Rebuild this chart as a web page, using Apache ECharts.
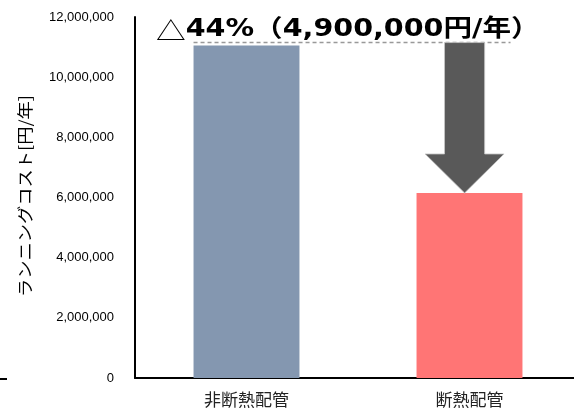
<!DOCTYPE html>
<html><head><meta charset="utf-8">
<script src="https://cdn.jsdelivr.net/npm/echarts@6/dist/echarts.min.js"></script>
<style>html,body{margin:0;padding:0;background:#fff}#c{width:574px;height:412px}</style>
</head><body><div id="c"></div>
<script>
var categories = ['非断熱配管', '断熱配管'];
var costValues = [11050000, 6150000];
var barColors = ['#8497B0', '#FF7575'];
var yTicks = [0, 2000000, 4000000, 6000000, 8000000, 10000000, 12000000];
var reductionFrom = 11150000;
var reductionTo = 6150000;
var reductionLabel = '44%（4,900,000円/年）';
var yAxisName = 'ランニングコスト[円/年]';

var chart = echarts.init(document.getElementById('c'), null, {renderer: 'canvas'});

function fmt(v) { return String(v).replace(/\B(?=(\d{3})+(?!\d))/g, ','); }

chart.setOption({
  animation: false,
  backgroundColor: '#fff',
  grid: {left: 135, width: 446, top: 17, bottom: 34, containLabel: false, outerBoundsMode: 'none'},
  xAxis: {
    type: 'category', data: categories,
    axisLine: {lineStyle: {color: '#000', width: 2}},
    axisTick: {show: false},
    axisLabel: {color: '#222', fontSize: 17, margin: 13, fontFamily: 'Noto Sans CJK JP'}
  },
  yAxis: {
    type: 'value', min: yTicks[0], max: yTicks[yTicks.length - 1], interval: yTicks[1] - yTicks[0],
    axisLine: {show: true, lineStyle: {color: '#000', width: 2}},
    axisTick: {show: false},
    splitLine: {show: false},
    axisLabel: {color: '#000', fontSize: 13, margin: 21, fontFamily: 'Liberation Sans', formatter: fmt}
  },
  graphic: [
    {type: 'line', shape: {x1: 0, y1: 379, x2: 7, y2: 379}, style: {stroke: '#000', lineWidth: 2}},
    {type: 'text', x: 25, y: 196, rotation: Math.PI / 2, scaleX: 1.14,
     style: {text: yAxisName, align: 'center', verticalAlign: 'middle', fill: '#000',
             fontSize: 16, fontFamily: 'Noto Sans CJK JP'}},
    {type: 'text', x: 156, y: 30, scaleX: 1.19, z: 10,
     style: {
       text: '{a|△}{b|' + reductionLabel + '}',
       verticalAlign: 'middle', align: 'left',
       rich: {
         a: {fontSize: 25, fontWeight: 'normal', fill: '#000', fontFamily: 'Noto Sans CJK JP'},
         b: {fontSize: 24, fontWeight: 'bold', fill: '#000', fontFamily: 'DejaVu Sans, Noto Sans CJK JP'}
       }
     }}
  ],
  series: [{
    type: 'bar', barWidth: '47.5%',
    data: costValues.map(function (v, i) { return {value: v, itemStyle: {color: barColors[i]}}; })
  }, {
    type: 'custom', z: 5,
    data: [[1, reductionFrom, reductionTo]],
    encode: {x: 0, y: [1, 2]},
    renderItem: function (params, api) {
      var top = api.coord([api.value(0), api.value(1)]);
      var tip = api.coord([api.value(0), api.value(2)]);
      var start = api.coord([0, api.value(1)]);
      var band = api.size([1, 0])[0];
      var cx = tip[0] - band * 0.022;
      var sw = band * 0.09, hw = band * 0.177, hh = band * 0.175;
      return {
        type: 'group',
        children: [{
          type: 'line',
          shape: {x1: start[0] - band * 0.2375, y1: top[1], x2: tip[0] + band * 0.184, y2: top[1]},
          style: {stroke: '#999', lineWidth: 1.5, lineDash: [4, 3]}
        }, {
          type: 'polygon',
          shape: {points: [
            [cx - sw, top[1]], [cx + sw, top[1]], [cx + sw, tip[1] - hh], [cx + hw, tip[1] - hh],
            [cx, tip[1]], [cx - hw, tip[1] - hh], [cx - sw, tip[1] - hh]
          ]},
          style: {fill: '#595959', stroke: '#C8C8C8', lineWidth: 0.8}
        }]
      };
    }
  }]
});
</script></body></html>
